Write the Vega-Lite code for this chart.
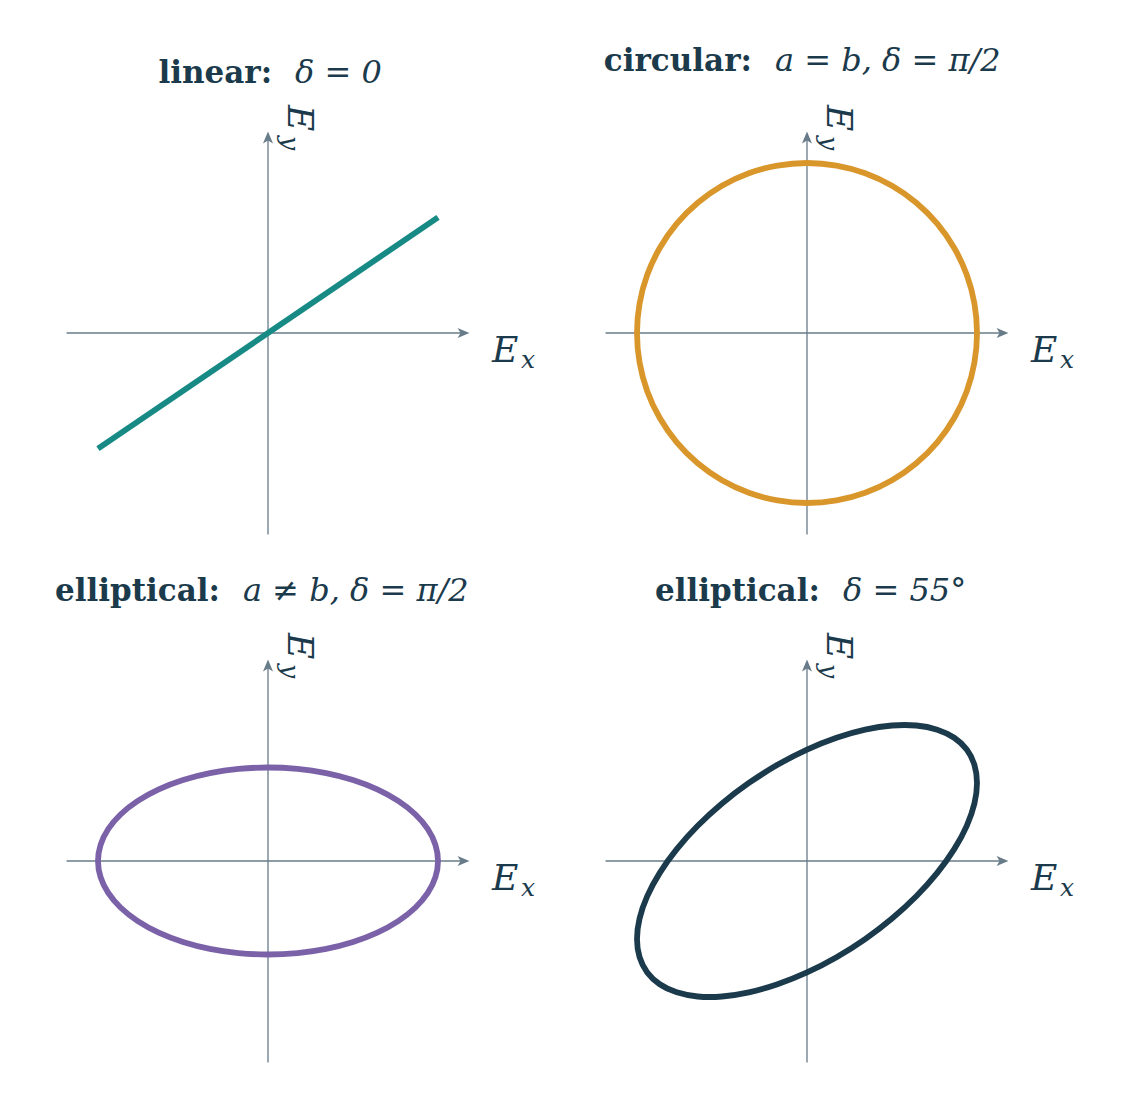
{
  "$schema": "https://vega.github.io/schema/vega-lite/v6.json",
  "padding": 10,
  "background": "white",
  "config": {"view": {"stroke": null}, "axis": {"disable": true}, "legend": {"disable": true}},
  "datasets": {"d": [
    {"p":1,"k":"l","i":0,"x":-1,"y":-0.68},{"p":1,"k":"l","i":1,"x":1,"y":0.68},

    {"p":2,"k":"c","i":0,"x":1,"y":0},{"p":2,"k":"c","i":1,"x":0.9848,"y":0.1736},{"p":2,"k":"c","i":2,"x":0.9397,"y":0.342},{"p":2,"k":"c","i":3,"x":0.866,"y":0.5},{"p":2,"k":"c","i":4,"x":0.766,"y":0.6428},{"p":2,"k":"c","i":5,"x":0.6428,"y":0.766},{"p":2,"k":"c","i":6,"x":0.5,"y":0.866},{"p":2,"k":"c","i":7,"x":0.342,"y":0.9397},{"p":2,"k":"c","i":8,"x":0.1736,"y":0.9848},{"p":2,"k":"c","i":9,"x":0,"y":1},{"p":2,"k":"c","i":10,"x":-0.1736,"y":0.9848},{"p":2,"k":"c","i":11,"x":-0.342,"y":0.9397},{"p":2,"k":"c","i":12,"x":-0.5,"y":0.866},{"p":2,"k":"c","i":13,"x":-0.6428,"y":0.766},{"p":2,"k":"c","i":14,"x":-0.766,"y":0.6428},{"p":2,"k":"c","i":15,"x":-0.866,"y":0.5},{"p":2,"k":"c","i":16,"x":-0.9397,"y":0.342},{"p":2,"k":"c","i":17,"x":-0.9848,"y":0.1736},{"p":2,"k":"c","i":18,"x":-1,"y":0},{"p":2,"k":"c","i":19,"x":-0.9848,"y":-0.1736},{"p":2,"k":"c","i":20,"x":-0.9397,"y":-0.342},{"p":2,"k":"c","i":21,"x":-0.866,"y":-0.5},{"p":2,"k":"c","i":22,"x":-0.766,"y":-0.6428},{"p":2,"k":"c","i":23,"x":-0.6428,"y":-0.766},{"p":2,"k":"c","i":24,"x":-0.5,"y":-0.866},{"p":2,"k":"c","i":25,"x":-0.342,"y":-0.9397},{"p":2,"k":"c","i":26,"x":-0.1736,"y":-0.9848},{"p":2,"k":"c","i":27,"x":0,"y":-1},{"p":2,"k":"c","i":28,"x":0.1736,"y":-0.9848},{"p":2,"k":"c","i":29,"x":0.342,"y":-0.9397},{"p":2,"k":"c","i":30,"x":0.5,"y":-0.866},{"p":2,"k":"c","i":31,"x":0.6428,"y":-0.766},{"p":2,"k":"c","i":32,"x":0.766,"y":-0.6428},{"p":2,"k":"c","i":33,"x":0.866,"y":-0.5},{"p":2,"k":"c","i":34,"x":0.9397,"y":-0.342},{"p":2,"k":"c","i":35,"x":0.9848,"y":-0.1736},

    {"p":3,"k":"c","i":0,"x":1,"y":0},{"p":3,"k":"c","i":1,"x":0.9848,"y":0.0955},{"p":3,"k":"c","i":2,"x":0.9397,"y":0.1881},{"p":3,"k":"c","i":3,"x":0.866,"y":0.275},{"p":3,"k":"c","i":4,"x":0.766,"y":0.3535},{"p":3,"k":"c","i":5,"x":0.6428,"y":0.4213},{"p":3,"k":"c","i":6,"x":0.5,"y":0.4763},{"p":3,"k":"c","i":7,"x":0.342,"y":0.5168},{"p":3,"k":"c","i":8,"x":0.1736,"y":0.5416},{"p":3,"k":"c","i":9,"x":0,"y":0.55},{"p":3,"k":"c","i":10,"x":-0.1736,"y":0.5416},{"p":3,"k":"c","i":11,"x":-0.342,"y":0.5168},{"p":3,"k":"c","i":12,"x":-0.5,"y":0.4763},{"p":3,"k":"c","i":13,"x":-0.6428,"y":0.4213},{"p":3,"k":"c","i":14,"x":-0.766,"y":0.3535},{"p":3,"k":"c","i":15,"x":-0.866,"y":0.275},{"p":3,"k":"c","i":16,"x":-0.9397,"y":0.1881},{"p":3,"k":"c","i":17,"x":-0.9848,"y":0.0955},{"p":3,"k":"c","i":18,"x":-1,"y":0},{"p":3,"k":"c","i":19,"x":-0.9848,"y":-0.0955},{"p":3,"k":"c","i":20,"x":-0.9397,"y":-0.1881},{"p":3,"k":"c","i":21,"x":-0.866,"y":-0.275},{"p":3,"k":"c","i":22,"x":-0.766,"y":-0.3535},{"p":3,"k":"c","i":23,"x":-0.6428,"y":-0.4213},{"p":3,"k":"c","i":24,"x":-0.5,"y":-0.4763},{"p":3,"k":"c","i":25,"x":-0.342,"y":-0.5168},{"p":3,"k":"c","i":26,"x":-0.1736,"y":-0.5416},{"p":3,"k":"c","i":27,"x":0,"y":-0.55},{"p":3,"k":"c","i":28,"x":0.1736,"y":-0.5416},{"p":3,"k":"c","i":29,"x":0.342,"y":-0.5168},{"p":3,"k":"c","i":30,"x":0.5,"y":-0.4763},{"p":3,"k":"c","i":31,"x":0.6428,"y":-0.4213},{"p":3,"k":"c","i":32,"x":0.766,"y":-0.3535},{"p":3,"k":"c","i":33,"x":0.866,"y":-0.275},{"p":3,"k":"c","i":34,"x":0.9397,"y":-0.1881},{"p":3,"k":"c","i":35,"x":0.9848,"y":-0.0955},

    {"p":4,"k":"c","i":0,"x":1,"y":0.4589},{"p":4,"k":"c","i":1,"x":0.9848,"y":0.5657},{"p":4,"k":"c","i":2,"x":0.9397,"y":0.6554},{"p":4,"k":"c","i":3,"x":0.866,"y":0.725},{"p":4,"k":"c","i":4,"x":0.766,"y":0.7727},{"p":4,"k":"c","i":5,"x":0.6428,"y":0.797},{"p":4,"k":"c","i":6,"x":0.5,"y":0.797},{"p":4,"k":"c","i":7,"x":0.342,"y":0.7727},{"p":4,"k":"c","i":8,"x":0.1736,"y":0.725},{"p":4,"k":"c","i":9,"x":0,"y":0.6554},{"p":4,"k":"c","i":10,"x":-0.1736,"y":0.5657},{"p":4,"k":"c","i":11,"x":-0.342,"y":0.4589},{"p":4,"k":"c","i":12,"x":-0.5,"y":0.3381},{"p":4,"k":"c","i":13,"x":-0.6428,"y":0.207},{"p":4,"k":"c","i":14,"x":-0.766,"y":0.0698},{"p":4,"k":"c","i":15,"x":-0.866,"y":-0.0698},{"p":4,"k":"c","i":16,"x":-0.9397,"y":-0.207},{"p":4,"k":"c","i":17,"x":-0.9848,"y":-0.3381},{"p":4,"k":"c","i":18,"x":-1,"y":-0.4589},{"p":4,"k":"c","i":19,"x":-0.9848,"y":-0.5657},{"p":4,"k":"c","i":20,"x":-0.9397,"y":-0.6554},{"p":4,"k":"c","i":21,"x":-0.866,"y":-0.725},{"p":4,"k":"c","i":22,"x":-0.766,"y":-0.7727},{"p":4,"k":"c","i":23,"x":-0.6428,"y":-0.797},{"p":4,"k":"c","i":24,"x":-0.5,"y":-0.797},{"p":4,"k":"c","i":25,"x":-0.342,"y":-0.7727},{"p":4,"k":"c","i":26,"x":-0.1736,"y":-0.725},{"p":4,"k":"c","i":27,"x":0,"y":-0.6554},{"p":4,"k":"c","i":28,"x":0.1736,"y":-0.5657},{"p":4,"k":"c","i":29,"x":0.342,"y":-0.4589},{"p":4,"k":"c","i":30,"x":0.5,"y":-0.3381},{"p":4,"k":"c","i":31,"x":0.6428,"y":-0.207},{"p":4,"k":"c","i":32,"x":0.766,"y":-0.0698},{"p":4,"k":"c","i":33,"x":0.866,"y":0.0698},{"p":4,"k":"c","i":34,"x":0.9397,"y":0.207},{"p":4,"k":"c","i":35,"x":0.9848,"y":0.3381},

    {"p":1,"k":"ax","x":-1.185,"y":0,"x2":1.15,"y2":0},{"p":1,"k":"ax","x":0,"y":-1.185,"x2":0,"y2":1.15},
    {"p":2,"k":"ax","x":-1.185,"y":0,"x2":1.15,"y2":0},{"p":2,"k":"ax","x":0,"y":-1.185,"x2":0,"y2":1.15},
    {"p":3,"k":"ax","x":-1.185,"y":0,"x2":1.15,"y2":0},{"p":3,"k":"ax","x":0,"y":-1.185,"x2":0,"y2":1.15},
    {"p":4,"k":"ax","x":-1.185,"y":0,"x2":1.15,"y2":0},{"p":4,"k":"ax","x":0,"y":-1.185,"x2":0,"y2":1.15},

    {"p":1,"k":"ar","x":1.15,"y":0,"t":"r"},{"p":1,"k":"ar","x":0,"y":1.15,"t":"u"},
    {"p":2,"k":"ar","x":1.15,"y":0,"t":"r"},{"p":2,"k":"ar","x":0,"y":1.15,"t":"u"},
    {"p":3,"k":"ar","x":1.15,"y":0,"t":"r"},{"p":3,"k":"ar","x":0,"y":1.15,"t":"u"},
    {"p":4,"k":"ar","x":1.15,"y":0,"t":"r"},{"p":4,"k":"ar","x":0,"y":1.15,"t":"u"},

    {"p":1,"k":"E1","x":1.318,"y":-0.171,"t":"E"},{"p":1,"k":"E2","x":1.488,"y":-0.206,"t":"x"},{"p":1,"k":"E3","x":0.118,"y":1.341,"t":"E"},{"p":1,"k":"E4","x":0.082,"y":1.159,"t":"y"},
    {"p":2,"k":"E1","x":1.318,"y":-0.171,"t":"E"},{"p":2,"k":"E2","x":1.488,"y":-0.206,"t":"x"},{"p":2,"k":"E3","x":0.118,"y":1.341,"t":"E"},{"p":2,"k":"E4","x":0.082,"y":1.159,"t":"y"},
    {"p":3,"k":"E1","x":1.318,"y":-0.171,"t":"E"},{"p":3,"k":"E2","x":1.488,"y":-0.206,"t":"x"},{"p":3,"k":"E3","x":0.118,"y":1.341,"t":"E"},{"p":3,"k":"E4","x":0.082,"y":1.159,"t":"y"},
    {"p":4,"k":"E1","x":1.318,"y":-0.171,"t":"E"},{"p":4,"k":"E2","x":1.488,"y":-0.206,"t":"x"},{"p":4,"k":"E3","x":0.118,"y":1.341,"t":"E"},{"p":4,"k":"E4","x":0.082,"y":1.159,"t":"y"},

    {"p":1,"k":"tb","x":0.024,"y":1.471,"t":"linear:"},{"p":1,"k":"tm","x":0.159,"y":1.471,"t":"δ = 0"},
    {"p":2,"k":"tb","x":-0.324,"y":1.541,"t":"circular:"},{"p":2,"k":"tm","x":-0.188,"y":1.541,"t":"a = b, δ = π/2"},
    {"p":3,"k":"tb","x":-0.282,"y":1.529,"t":"elliptical:"},{"p":3,"k":"tm","x":-0.147,"y":1.529,"t":"a ≠ b, δ = π/2"},
    {"p":4,"k":"tb","x":0.076,"y":1.529,"t":"elliptical:"},{"p":4,"k":"tm","x":0.212,"y":1.529,"t":"δ = 55°"}
  ]},
  "data": {"name": "d"},
  "columns": 2,
  "spacing": 0,
  "concat": [
    {
      "transform": [{"filter": "datum.p === 1"}],
      "width": 539, "height": 528,
      "encoding": {
        "x": {"field": "x", "type": "quantitative", "scale": {"domain": [-1.5176, 1.6529], "nice": false, "zero": false}},
        "y": {"field": "y", "type": "quantitative", "scale": {"domain": [-1.2059, 1.9], "nice": false, "zero": false}}
      },
      "layer": [
        {"transform": [{"filter": "datum.k === 'ax'"}], "mark": {"type": "rule", "color": "#687b89", "strokeWidth": 1.3}, "encoding": {"x2": {"field": "x2"}, "y2": {"field": "y2"}}},
        {"transform": [{"filter": "datum.k === 'ar'"}], "mark": {"type": "point", "filled": true, "color": "#687b89", "opacity": 1, "size": 140, "strokeWidth": 0}, "encoding": {"shape": {"field": "t", "type": "nominal", "scale": {"domain": ["r", "u"], "range": ["M1,0L-1,-0.85L-0.5,0L-1,0.85Z", "M0,-1L-0.85,1L0,0.5L0.85,1Z"]}, "legend": null}}},
        {"transform": [{"filter": "datum.k === 'l'"}], "mark": {"type": "line", "strokeWidth": 5.8, "color": "#178a86"}, "encoding": {"order": {"field": "i", "type": "quantitative"}}},
        {"transform": [{"filter": "datum.k === 'tb'"}], "mark": {"type": "text", "align": "right", "baseline": "alphabetic", "font": "DejaVu Serif", "fontWeight": "bold", "fontSize": 31, "color": "#1b3a4b"}, "encoding": {"text": {"field": "t"}}},
        {"transform": [{"filter": "datum.k === 'tm'"}], "mark": {"type": "text", "align": "left", "baseline": "alphabetic", "font": "DejaVu Serif", "fontStyle": "italic", "fontSize": 32, "color": "#1b3a4b"}, "encoding": {"text": {"field": "t"}}},
        {"transform": [{"filter": "datum.k === 'E1'"}], "mark": {"type": "text", "align": "left", "baseline": "alphabetic", "font": "DejaVu Serif", "fontStyle": "italic", "fontSize": 36, "color": "#1b3a4b"}, "encoding": {"text": {"field": "t"}}},
        {"transform": [{"filter": "datum.k === 'E2'"}], "mark": {"type": "text", "align": "left", "baseline": "alphabetic", "font": "DejaVu Serif", "fontStyle": "italic", "fontSize": 25, "color": "#1b3a4b"}, "encoding": {"text": {"field": "t"}}},
        {"transform": [{"filter": "datum.k === 'E3'"}], "mark": {"type": "text", "align": "left", "baseline": "alphabetic", "angle": 90, "font": "DejaVu Serif", "fontStyle": "italic", "fontSize": 36, "color": "#1b3a4b"}, "encoding": {"text": {"field": "t"}}},
        {"transform": [{"filter": "datum.k === 'E4'"}], "mark": {"type": "text", "align": "left", "baseline": "alphabetic", "angle": 90, "font": "DejaVu Serif", "fontStyle": "italic", "fontSize": 25, "color": "#1b3a4b"}, "encoding": {"text": {"field": "t"}}}
      ]
    },
    {
      "transform": [{"filter": "datum.p === 2"}],
      "width": 539, "height": 528,
      "encoding": {
        "x": {"field": "x", "type": "quantitative", "scale": {"domain": [-1.5176, 1.6529], "nice": false, "zero": false}},
        "y": {"field": "y", "type": "quantitative", "scale": {"domain": [-1.2059, 1.9], "nice": false, "zero": false}}
      },
      "layer": [
        {"transform": [{"filter": "datum.k === 'ax'"}], "mark": {"type": "rule", "color": "#687b89", "strokeWidth": 1.3}, "encoding": {"x2": {"field": "x2"}, "y2": {"field": "y2"}}},
        {"transform": [{"filter": "datum.k === 'ar'"}], "mark": {"type": "point", "filled": true, "color": "#687b89", "opacity": 1, "size": 140, "strokeWidth": 0}, "encoding": {"shape": {"field": "t", "type": "nominal", "scale": {"domain": ["r", "u"], "range": ["M1,0L-1,-0.85L-0.5,0L-1,0.85Z", "M0,-1L-0.85,1L0,0.5L0.85,1Z"]}, "legend": null}}},
        {"transform": [{"filter": "datum.k === 'c'"}], "mark": {"type": "line", "strokeWidth": 5.8, "interpolate": "cardinal-closed", "color": "#d9962b"}, "encoding": {"order": {"field": "i", "type": "quantitative"}}},
        {"transform": [{"filter": "datum.k === 'tb'"}], "mark": {"type": "text", "align": "right", "baseline": "alphabetic", "font": "DejaVu Serif", "fontWeight": "bold", "fontSize": 31, "color": "#1b3a4b"}, "encoding": {"text": {"field": "t"}}},
        {"transform": [{"filter": "datum.k === 'tm'"}], "mark": {"type": "text", "align": "left", "baseline": "alphabetic", "font": "DejaVu Serif", "fontStyle": "italic", "fontSize": 32, "color": "#1b3a4b"}, "encoding": {"text": {"field": "t"}}},
        {"transform": [{"filter": "datum.k === 'E1'"}], "mark": {"type": "text", "align": "left", "baseline": "alphabetic", "font": "DejaVu Serif", "fontStyle": "italic", "fontSize": 36, "color": "#1b3a4b"}, "encoding": {"text": {"field": "t"}}},
        {"transform": [{"filter": "datum.k === 'E2'"}], "mark": {"type": "text", "align": "left", "baseline": "alphabetic", "font": "DejaVu Serif", "fontStyle": "italic", "fontSize": 25, "color": "#1b3a4b"}, "encoding": {"text": {"field": "t"}}},
        {"transform": [{"filter": "datum.k === 'E3'"}], "mark": {"type": "text", "align": "left", "baseline": "alphabetic", "angle": 90, "font": "DejaVu Serif", "fontStyle": "italic", "fontSize": 36, "color": "#1b3a4b"}, "encoding": {"text": {"field": "t"}}},
        {"transform": [{"filter": "datum.k === 'E4'"}], "mark": {"type": "text", "align": "left", "baseline": "alphabetic", "angle": 90, "font": "DejaVu Serif", "fontStyle": "italic", "fontSize": 25, "color": "#1b3a4b"}, "encoding": {"text": {"field": "t"}}}
      ]
    },
    {
      "transform": [{"filter": "datum.p === 3"}],
      "width": 539, "height": 528,
      "encoding": {
        "x": {"field": "x", "type": "quantitative", "scale": {"domain": [-1.5176, 1.6529], "nice": false, "zero": false}},
        "y": {"field": "y", "type": "quantitative", "scale": {"domain": [-1.2059, 1.9], "nice": false, "zero": false}}
      },
      "layer": [
        {"transform": [{"filter": "datum.k === 'ax'"}], "mark": {"type": "rule", "color": "#687b89", "strokeWidth": 1.3}, "encoding": {"x2": {"field": "x2"}, "y2": {"field": "y2"}}},
        {"transform": [{"filter": "datum.k === 'ar'"}], "mark": {"type": "point", "filled": true, "color": "#687b89", "opacity": 1, "size": 140, "strokeWidth": 0}, "encoding": {"shape": {"field": "t", "type": "nominal", "scale": {"domain": ["r", "u"], "range": ["M1,0L-1,-0.85L-0.5,0L-1,0.85Z", "M0,-1L-0.85,1L0,0.5L0.85,1Z"]}, "legend": null}}},
        {"transform": [{"filter": "datum.k === 'c'"}], "mark": {"type": "line", "strokeWidth": 5.8, "interpolate": "cardinal-closed", "color": "#7b62a8"}, "encoding": {"order": {"field": "i", "type": "quantitative"}}},
        {"transform": [{"filter": "datum.k === 'tb'"}], "mark": {"type": "text", "align": "right", "baseline": "alphabetic", "font": "DejaVu Serif", "fontWeight": "bold", "fontSize": 31, "color": "#1b3a4b"}, "encoding": {"text": {"field": "t"}}},
        {"transform": [{"filter": "datum.k === 'tm'"}], "mark": {"type": "text", "align": "left", "baseline": "alphabetic", "font": "DejaVu Serif", "fontStyle": "italic", "fontSize": 32, "color": "#1b3a4b"}, "encoding": {"text": {"field": "t"}}},
        {"transform": [{"filter": "datum.k === 'E1'"}], "mark": {"type": "text", "align": "left", "baseline": "alphabetic", "font": "DejaVu Serif", "fontStyle": "italic", "fontSize": 36, "color": "#1b3a4b"}, "encoding": {"text": {"field": "t"}}},
        {"transform": [{"filter": "datum.k === 'E2'"}], "mark": {"type": "text", "align": "left", "baseline": "alphabetic", "font": "DejaVu Serif", "fontStyle": "italic", "fontSize": 25, "color": "#1b3a4b"}, "encoding": {"text": {"field": "t"}}},
        {"transform": [{"filter": "datum.k === 'E3'"}], "mark": {"type": "text", "align": "left", "baseline": "alphabetic", "angle": 90, "font": "DejaVu Serif", "fontStyle": "italic", "fontSize": 36, "color": "#1b3a4b"}, "encoding": {"text": {"field": "t"}}},
        {"transform": [{"filter": "datum.k === 'E4'"}], "mark": {"type": "text", "align": "left", "baseline": "alphabetic", "angle": 90, "font": "DejaVu Serif", "fontStyle": "italic", "fontSize": 25, "color": "#1b3a4b"}, "encoding": {"text": {"field": "t"}}}
      ]
    },
    {
      "transform": [{"filter": "datum.p === 4"}],
      "width": 539, "height": 528,
      "encoding": {
        "x": {"field": "x", "type": "quantitative", "scale": {"domain": [-1.5176, 1.6529], "nice": false, "zero": false}},
        "y": {"field": "y", "type": "quantitative", "scale": {"domain": [-1.2059, 1.9], "nice": false, "zero": false}}
      },
      "layer": [
        {"transform": [{"filter": "datum.k === 'ax'"}], "mark": {"type": "rule", "color": "#687b89", "strokeWidth": 1.3}, "encoding": {"x2": {"field": "x2"}, "y2": {"field": "y2"}}},
        {"transform": [{"filter": "datum.k === 'ar'"}], "mark": {"type": "point", "filled": true, "color": "#687b89", "opacity": 1, "size": 140, "strokeWidth": 0}, "encoding": {"shape": {"field": "t", "type": "nominal", "scale": {"domain": ["r", "u"], "range": ["M1,0L-1,-0.85L-0.5,0L-1,0.85Z", "M0,-1L-0.85,1L0,0.5L0.85,1Z"]}, "legend": null}}},
        {"transform": [{"filter": "datum.k === 'c'"}], "mark": {"type": "line", "strokeWidth": 5.8, "interpolate": "cardinal-closed", "color": "#1b3a4c"}, "encoding": {"order": {"field": "i", "type": "quantitative"}}},
        {"transform": [{"filter": "datum.k === 'tb'"}], "mark": {"type": "text", "align": "right", "baseline": "alphabetic", "font": "DejaVu Serif", "fontWeight": "bold", "fontSize": 31, "color": "#1b3a4b"}, "encoding": {"text": {"field": "t"}}},
        {"transform": [{"filter": "datum.k === 'tm'"}], "mark": {"type": "text", "align": "left", "baseline": "alphabetic", "font": "DejaVu Serif", "fontStyle": "italic", "fontSize": 32, "color": "#1b3a4b"}, "encoding": {"text": {"field": "t"}}},
        {"transform": [{"filter": "datum.k === 'E1'"}], "mark": {"type": "text", "align": "left", "baseline": "alphabetic", "font": "DejaVu Serif", "fontStyle": "italic", "fontSize": 36, "color": "#1b3a4b"}, "encoding": {"text": {"field": "t"}}},
        {"transform": [{"filter": "datum.k === 'E2'"}], "mark": {"type": "text", "align": "left", "baseline": "alphabetic", "font": "DejaVu Serif", "fontStyle": "italic", "fontSize": 25, "color": "#1b3a4b"}, "encoding": {"text": {"field": "t"}}},
        {"transform": [{"filter": "datum.k === 'E3'"}], "mark": {"type": "text", "align": "left", "baseline": "alphabetic", "angle": 90, "font": "DejaVu Serif", "fontStyle": "italic", "fontSize": 36, "color": "#1b3a4b"}, "encoding": {"text": {"field": "t"}}},
        {"transform": [{"filter": "datum.k === 'E4'"}], "mark": {"type": "text", "align": "left", "baseline": "alphabetic", "angle": 90, "font": "DejaVu Serif", "fontStyle": "italic", "fontSize": 25, "color": "#1b3a4b"}, "encoding": {"text": {"field": "t"}}}
      ]
    }
  ]
}
